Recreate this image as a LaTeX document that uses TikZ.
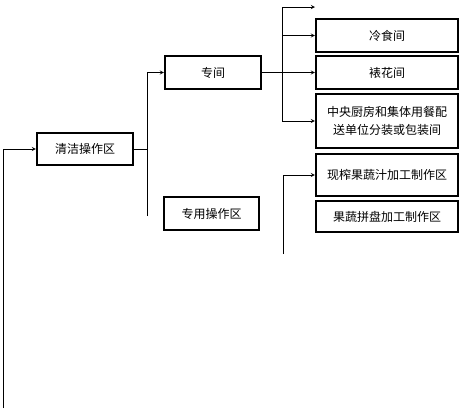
\documentclass[tikz,border=0pt]{standalone}
\usepackage{fontspec}
\setmainfont{Noto Sans CJK SC}
\usepackage{tikz}
\usetikzlibrary{arrows,positioning,calc}

\begin{document}
\begin{tikzpicture}[
  x=0.75pt, y=-0.75pt,
  zone/.style={draw, line width=1.6pt, inner sep=1pt, align=center, font=\fontsize{9}{14}\selectfont},
  arrow/.style={->, >=stealth, thin},
  link/.style={thin}
]
  \useasboundingbox (0,0) rectangle (463,408);

  % Main zones
  \node[zone, minimum width=72pt, minimum height=24pt] (clean) at (85,149) {清洁操作区};
  \node[zone, minimum width=72pt, minimum height=24.75pt] (zj) at (213,72.5) {专间};
  \node[zone, minimum width=71.25pt, minimum height=24.75pt] (zy) at (211.5,213.5) {专用操作区};

  % Rooms
  \node[zone, minimum width=106.5pt, minimum height=24.75pt] (lengshi) at (387,35.5) {冷食间};
  \node[zone, minimum width=106.5pt, minimum height=24.75pt] (biaohua) at (387,72.5) {裱花间};
  \node[zone, minimum width=106.5pt, minimum height=40.5pt] (zhongyang) at (387,121) {中央厨房和集体用餐配\\送单位分装或包装间};
  \node[zone, minimum width=106.5pt, minimum height=31.5pt] (xianzha) at (387,175) {现榨果蔬汁加工制作区};
  \node[zone, minimum width=106.5pt, minimum height=23.25pt] (guoshu) at (387,216.5) {果蔬拼盘加工制作区};

  % Bus ends
  \coordinate (busL) at (3,408);
  \coordinate (busA) at (147,216);
  \coordinate (busB) at (282,121);
  \coordinate (busC) at (283,254);
  \coordinate (topend) at (315,7);

  % Connectors
  \draw[arrow] (busL) |- (clean.west);
  \draw[link] (clean.east) -- (clean.east -| busA);
  \draw[arrow] (busA) |- (zj.west);
  \draw[arrow] (zj.east) -- (biaohua.west);
  \draw[arrow] (busB) |- (topend);
  \draw[arrow] (busB |- lengshi.west) -- (lengshi.west);
  \draw[arrow] (busB) -- (zhongyang.west |- busB);
  \draw[arrow] (busC) |- (xianzha.west);
\end{tikzpicture}
\end{document}
